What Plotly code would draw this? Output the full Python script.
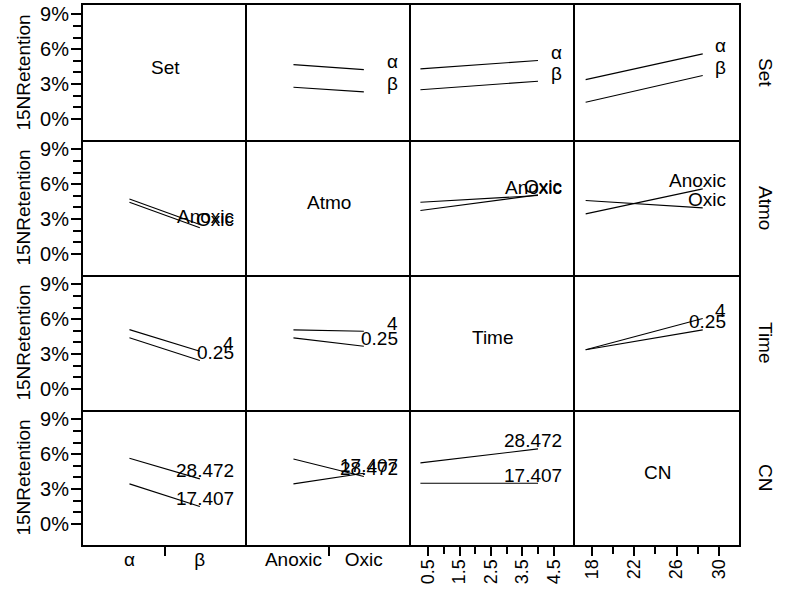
import plotly.graph_objects as go
from plotly.subplots import make_subplots

# ---------------- data ----------------
FACTORS = ["Set", "Atmo", "Time", "CN"]
SET_LEVELS = ["α", "β"]
ATMO_LEVELS = ["Anoxic", "Oxic"]
TIME_LEVELS = [0.25, 4]
CN_LEVELS = [17.407, 28.472]
TIME_TEXT = ["0.25", "4"]
CN_TEXT = ["17.407", "28.472"]

Y_TICKS = [0, 3, 6, 9]
Y_TICKTEXT = ["0%", "3%", "6%", "9%"]
Y_MINOR = [1, 2, 4, 5, 7, 8]
TIME_TICKS = [0.5, 1.5, 2.5, 3.5, 4.5]
TIME_MINOR = [1, 2, 3, 4]
CN_TICKS = [18, 22, 26, 30]
CN_MINOR = [20, 24, 28]

# 15N retention (%) ; each inner list = one line (level of row factor),
# values at the two levels of the column factor
SET_X_ATMO = [[4.67, 4.24], [2.72, 2.32]]
SET_X_TIME = [[4.30, 5.02], [2.50, 3.24]]
SET_X_CN = [[3.38, 5.59], [1.43, 3.73]]
ATMO_X_SET = [[4.73, 2.52], [4.44, 2.24]]
ATMO_X_TIME = [[4.44, 5.02], [3.73, 5.08]]
ATMO_X_CN = [[3.44, 5.59], [4.59, 3.96]]
TIME_X_SET = [[4.39, 2.44], [5.10, 3.24]]
TIME_X_ATMO = [[4.39, 3.67], [5.08, 4.96]]
TIME_X_CN = [[3.36, 5.08], [3.36, 6.05]]
CN_X_SET = [[3.44, 1.49], [5.65, 3.87]]
CN_X_ATMO = [[3.44, 4.35], [5.59, 4.07]]
CN_X_TIME = [[3.49, 3.49], [5.25, 6.45]]

# ---------------- figure ----------------
FONT = "Liberation Sans, Arial, sans-serif"
FS = 19

LEVELS = [SET_LEVELS, ATMO_LEVELS, TIME_LEVELS, CN_LEVELS]
LEVEL_TEXT = [SET_LEVELS, ATMO_LEVELS, TIME_TEXT, CN_TEXT]
CELLS = {
    (0, 1): SET_X_ATMO, (0, 2): SET_X_TIME, (0, 3): SET_X_CN,
    (1, 0): ATMO_X_SET, (1, 2): ATMO_X_TIME, (1, 3): ATMO_X_CN,
    (2, 0): TIME_X_SET, (2, 1): TIME_X_ATMO, (2, 3): TIME_X_CN,
    (3, 0): CN_X_SET, (3, 1): CN_X_ATMO, (3, 2): CN_X_TIME,
}
X_RANGES = [[-0.66, 1.67], [-0.66, 1.67], [-0.05, 5.18], [16.4, 31.9]]
Y_RANGE = [-1.82, 9.8]


def xpos(j):
    if j < 2:
        return list(range(len(LEVELS[j])))
    return LEVELS[j]


def sfx(i, j):
    n = i * 4 + j + 1
    return "" if n == 1 else str(n)


fig = make_subplots(rows=4, cols=4, horizontal_spacing=0, vertical_spacing=0)

for (i, j), vals in CELLS.items():
    for k, yv in enumerate(vals):
        fig.add_trace(
            go.Scatter(x=xpos(j), y=yv, mode="lines",
                       line=dict(color="black", width=1.1),
                       showlegend=False, hoverinfo="skip"),
            row=i + 1, col=j + 1)
        s = sfx(i, j)
        fig.add_annotation(
            x=1, xref=f"x{s} domain", y=yv[-1], yref=f"y{s}",
            text=LEVEL_TEXT[i][k], showarrow=False,
            xanchor="right", yanchor="middle", xshift=-11, yshift=8,
            font=dict(family=FONT, size=FS, color="black"))

for d in range(4):
    # empty trace so the diagonal panel's axes are drawn
    fig.add_trace(go.Scatter(x=[], y=[], mode="lines", showlegend=False,
                             hoverinfo="skip"), row=d + 1, col=d + 1)
    s = sfx(d, d)
    fig.add_annotation(
        x=0.5, xref=f"x{s} domain", y=0.5, yref=f"y{s} domain",
        text=FACTORS[d], showarrow=False, yshift=5,
        font=dict(family=FONT, size=FS, color="black"))
    fig.add_annotation(
        x=1, xref="paper", y=0.5, yref=f"y{s} domain",
        text=FACTORS[d], showarrow=False, textangle=90, xshift=39,
        font=dict(family=FONT, size=FS, color="black"))

tickfont = dict(family=FONT, size=FS, color="black")
ytickfont = dict(family=FONT, size=20, color="black")
rotfont = dict(family=FONT, size=18, color="black")
LW = 2
for r in range(4):
    for c in range(4):
        yopts = dict(range=Y_RANGE, showgrid=False, zeroline=False,
                     showline=True, mirror=(c == 3), linecolor="black",
                     linewidth=LW, fixedrange=True)
        if c == 0:
            yopts.update(tickmode="array", tickvals=Y_TICKS, ticktext=Y_TICKTEXT,
                         ticks="outside", ticklen=10, tickwidth=2,
                         tickcolor="black", tickfont=ytickfont,
                         ticklabelstandoff=-2,
                         minor=dict(tickmode="array", tickvals=Y_MINOR,
                                    ticks="outside", ticklen=8, tickwidth=2,
                                    tickcolor="black"),
                         title=dict(text="15NRetention", standoff=4,
                                    font=tickfont))
        else:
            yopts.update(showticklabels=False, ticks="")
        fig.update_yaxes(row=r + 1, col=c + 1, **yopts)

        xopts = dict(range=X_RANGES[c], showgrid=False, zeroline=False,
                     showline=True, mirror=(r == 0), linecolor="black",
                     linewidth=LW, fixedrange=True)
        if r == 3:
            if c < 2:
                xopts.update(tickmode="array", tickvals=xpos(c),
                             ticktext=LEVELS[c], ticks="outside", ticklen=0,
                             tickfont=tickfont, ticklabelstandoff=-4,
                             minor=dict(tickmode="array", tickvals=[0.5],
                                        ticks="outside", ticklen=9,
                                        tickwidth=2, tickcolor="black"))
            elif c == 2:
                xopts.update(tickmode="array", tickvals=TIME_TICKS,
                             ticktext=[str(v) for v in TIME_TICKS],
                             ticks="outside", ticklen=9, tickwidth=2,
                             tickcolor="black", tickangle=-90,
                             tickfont=rotfont, ticklabelstandoff=-4,
                             minor=dict(tickmode="array", tickvals=TIME_MINOR,
                                        ticks="outside", ticklen=7,
                                        tickwidth=2, tickcolor="black"))
            else:
                xopts.update(tickmode="array", tickvals=CN_TICKS,
                             ticktext=[str(v) for v in CN_TICKS],
                             ticks="outside", ticklen=9, tickwidth=2,
                             tickcolor="black", tickangle=-90,
                             tickfont=rotfont, ticklabelstandoff=-4,
                             minor=dict(tickmode="array", tickvals=CN_MINOR,
                                        ticks="outside", ticklen=7,
                                        tickwidth=2, tickcolor="black"))
        else:
            xopts.update(showticklabels=False, ticks="")
        fig.update_xaxes(row=r + 1, col=c + 1, **xopts)

fig.update_layout(
    width=785, height=589,
    margin=dict(l=83, r=46, t=5, b=44, autoexpand=False),
    paper_bgcolor="white", plot_bgcolor="white",
    font=dict(family=FONT, size=FS, color="black"),
    showlegend=False,
)

fig.write_html("out.html")
